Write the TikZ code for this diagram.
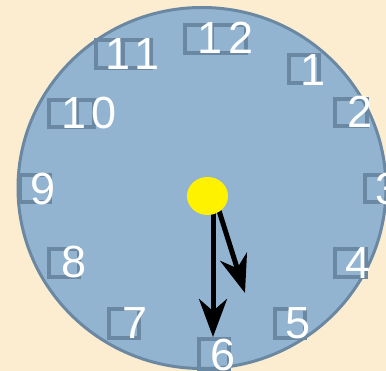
\documentclass[tikz,border=0pt]{standalone}
\usepackage{fontspec}
\setmainfont{Liberation Sans}
\usetikzlibrary{arrows.meta,shapes.geometric}
\definecolor{bgcream}{RGB}{252,236,208}
\definecolor{faceblue}{RGB}{147,180,208}
\definecolor{rimblue}{RGB}{107,136,163}
\tikzset{
  glyphbox/.style={draw=rimblue, line width=4pt},
  numlabel/.style={anchor=base west, inner sep=0pt, text=white, font=\fontsize{45}{45}\selectfont},
  hand/.style={draw=black, line width=5pt, -{Stealth[length=38pt,width=28pt,inset=12pt]}}
}
\begin{document}
\begin{tikzpicture}[x=1pt,y=-1pt]
\fill[bgcream] (0,0) rectangle (386,371);
\useasboundingbox (0,0) rectangle (386,371);
\begin{scope}
\clip (0,0) rectangle (386,371);
\draw[fill=faceblue, draw=rimblue, line width=3pt] (202,188) ellipse [x radius=184, y radius=180.5];
% glyph boxes
\draw[glyphbox] (185,25) rectangle (212,53) (212,25) rectangle (246,53);
\draw[glyphbox] (96,40) rectangle (123,68) (123,40) rectangle (151,68);
\draw[glyphbox] (289,55) rectangle (319,83);
\draw[glyphbox] (49,100) rectangle (77,127) (77,100) rectangle (94,127);
\draw[glyphbox] (335,99) rectangle (367,126);
\draw[glyphbox] (20,175) rectangle (50,202);
\draw[glyphbox] (365,175) rectangle (395,202);
\draw[glyphbox] (49,249) rectangle (79,277);
\draw[glyphbox] (335,249) rectangle (366,277);
\draw[glyphbox] (109,309) rectangle (139,338);
\draw[glyphbox] (275,309) rectangle (305,338);
\draw[glyphbox] (199,339) rectangle (229,369);
% numbers
\node[numlabel] (n12) at (197,54) {1\kern6pt 2};
\node[numlabel] (n11) at (105,70) {1\kern4pt 1};
\node[numlabel] (n1) at (300,86) {1};
\node[numlabel] (n10) at (61,129) {1\kern5pt 0};
\node[numlabel] (n2) at (347,128) {2};
\node[numlabel] (n9) at (30,205) {9};
\node[numlabel] (n3) at (375,205) {3};
\node[numlabel] (n8) at (61,278) {8};
\node[numlabel] (n4) at (345,279) {4};
\node[numlabel] (n7) at (122,339) {7};
\node[numlabel] (n5) at (285,339) {5};
\node[numlabel] (n6) at (210,371) {6};
% hands
\coordinate (hubA) at (213,200);
\coordinate (hubB) at (215,198);
\coordinate (tipA) at (213,337);
\coordinate (tipB) at (245,293);
\draw[hand] (hubA) -- (tipA);
\draw[hand] (hubB) -- (tipB);
\node[fill=yellow, ellipse, minimum width=41pt, minimum height=38pt, inner sep=0pt, draw=none] (hub) at (207.5,196) {};
\end{scope}
\end{tikzpicture}
\end{document}
